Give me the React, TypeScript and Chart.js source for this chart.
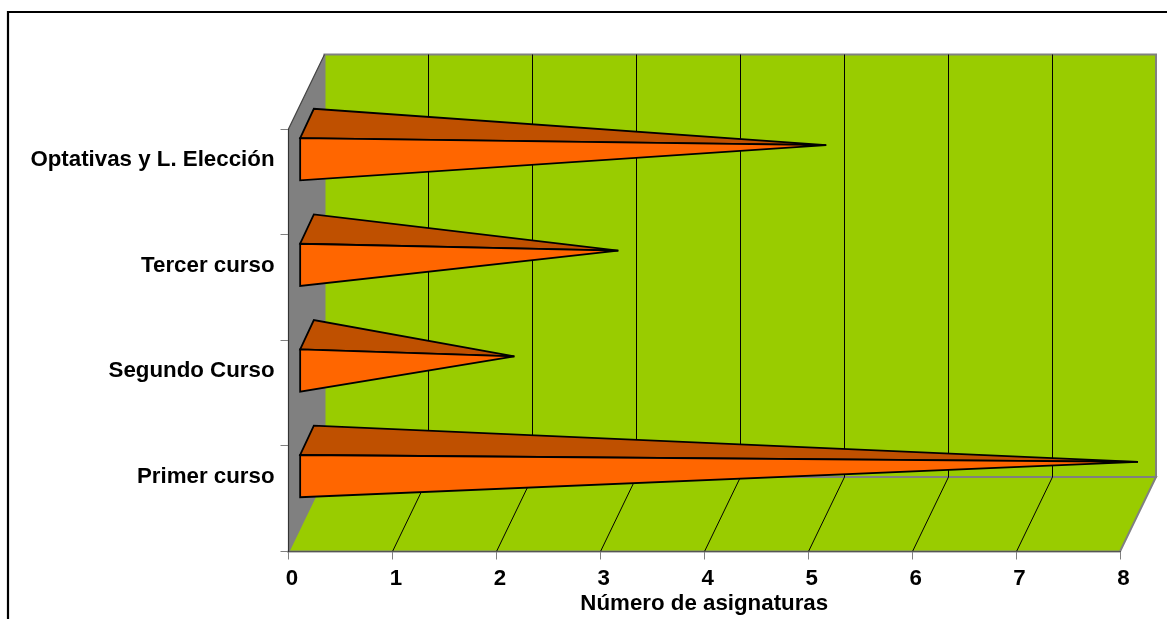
import React, { useEffect, useRef } from "react";
import { Chart, registerables } from "chart.js";

Chart.register(...registerables);

const categories = ["Optativas y L. Elección", "Tercer curso", "Segundo Curso", "Primer curso"];
const asignaturas = [5, 3, 2, 8];
const axisTitle = "Número de asignaturas";
const xMax = 8;

const DEPTH_X = 36;
const DEPTH_Y = -74.5;
const GREEN = "#99CC00";
const GREY = "#808080";
const FRONT = "#FF6600";
const TOP = "#BF5000";
const FONT = "'Liberation Sans', Arial, sans-serif";
const FONT_SIZE = 22.3;

const scene3d = {
  id: "scene3d",
  beforeDraw(chart: any) {
    const { ctx, chartArea: a, scales } = chart;
    const x = scales.x;
    ctx.save();
    // Outer frame (the reference crops it at right and bottom)
    ctx.strokeStyle = "#000";
    ctx.lineWidth = 2.2;
    ctx.beginPath();
    ctx.moveTo(8, 625);
    ctx.lineTo(8, 12);
    ctx.lineTo(1175, 12);
    ctx.stroke();

    const l = a.left, r = a.right, t = a.top, b = a.bottom;
    // Back wall
    ctx.beginPath();
    ctx.rect(l + DEPTH_X, t + DEPTH_Y, r - l, b - t);
    ctx.fillStyle = GREEN;
    ctx.fill();
    ctx.lineWidth = 2;
    ctx.strokeStyle = GREY;
    ctx.stroke();
    // Floor
    ctx.beginPath();
    ctx.moveTo(l, b);
    ctx.lineTo(r, b);
    ctx.lineTo(r + DEPTH_X, b + DEPTH_Y);
    ctx.lineTo(l + DEPTH_X, b + DEPTH_Y);
    ctx.closePath();
    ctx.fillStyle = GREEN;
    ctx.fill();
    ctx.stroke();
    // Side wall
    ctx.beginPath();
    ctx.moveTo(l, t);
    ctx.lineTo(l + DEPTH_X, t + DEPTH_Y);
    ctx.lineTo(l + DEPTH_X, b + DEPTH_Y);
    ctx.lineTo(l, b);
    ctx.closePath();
    ctx.fillStyle = GREY;
    ctx.fill();
    ctx.lineWidth = 1.2;
    ctx.strokeStyle = "#444";
    ctx.beginPath();
    ctx.moveTo(l, b);
    ctx.lineTo(l, t);
    ctx.lineTo(l + DEPTH_X, t + DEPTH_Y);
    ctx.stroke();
    // Grid lines on the wall and floor
    ctx.strokeStyle = "#000";
    ctx.lineWidth = 1;
    x.ticks.forEach((tick: any) => {
      if (tick.value <= 0 || tick.value >= xMax) return;
      const px = Math.round(x.getPixelForValue(tick.value)) + 0.5;
      ctx.beginPath();
      ctx.moveTo(px, b);
      ctx.lineTo(px + DEPTH_X, b + DEPTH_Y);
      ctx.lineTo(px + DEPTH_X, t + DEPTH_Y);
      ctx.stroke();
    });
    ctx.restore();
  },
  afterDatasetsDraw(chart: any) {
    const { ctx } = chart;
    const bars = chart.getDatasetMeta(0).data;
    ctx.save();
    ctx.lineWidth = 1.8;
    ctx.strokeStyle = "#000";
    ctx.lineJoin = "miter";
    bars.forEach((bar: any) => {
      const half = bar.height / 2;
      const cx = bar.base + DEPTH_X / 2;
      const cy = bar.y + DEPTH_Y / 2;
      const tipX = bar.x + DEPTH_X / 2;
      const tipY = cy + 0.5;
      const dx = DEPTH_X * 0.19;
      const dy = DEPTH_Y * 0.197;
      const fb = [cx - dx, cy - dy + half];
      const ft = [cx - dx, cy - dy - half];
      const bt = [cx + dx, cy + dy - half];
      // Upper face
      ctx.beginPath();
      ctx.moveTo(ft[0], ft[1]);
      ctx.lineTo(bt[0], bt[1]);
      ctx.lineTo(tipX, tipY);
      ctx.closePath();
      ctx.fillStyle = TOP;
      ctx.fill();
      ctx.stroke();
      // Front face
      ctx.beginPath();
      ctx.moveTo(fb[0], fb[1]);
      ctx.lineTo(ft[0], ft[1]);
      ctx.lineTo(tipX, tipY);
      ctx.closePath();
      ctx.fillStyle = FRONT;
      ctx.fill();
      ctx.stroke();
    });
    ctx.restore();
  },
};

export default function App() {
  const ref = useRef<HTMLCanvasElement>(null);
  useEffect(() => {
    const chart = new Chart(ref.current as HTMLCanvasElement, {
      type: "bar",
      data: {
        labels: categories,
        datasets: [
          {
            label: axisTitle,
            data: asignaturas,
            backgroundColor: "rgba(0,0,0,0)",
            borderWidth: 0,
            categoryPercentage: 1,
            barPercentage: 0.4,
          },
        ],
      },
      plugins: [scene3d],
      options: {
        indexAxis: "y",
        animation: false,
        responsive: false,
        layout: { padding: { top: 129, right: 47, left: 0, bottom: 0 } },
        plugins: { legend: { display: false }, tooltip: { enabled: false }, title: { display: false } },
        scales: {
          x: {
            type: "linear",
            min: 0,
            max: xMax,
            afterFit(s: any) { s.height = 67.5; },
            ticks: {
              stepSize: 1,
              maxRotation: 0,
              padding: 6,
              labelOffset: 3.5,
              color: "#000",
              font: { family: FONT, size: FONT_SIZE, weight: "bold" },
            },
            grid: { drawOnChartArea: false, drawTicks: true, tickLength: 8, color: GREY },
            border: { color: "#555" },
            title: {
              display: true,
              text: axisTitle,
              color: "#000",
              font: { family: FONT, size: FONT_SIZE, weight: "bold" },
              padding: { top: 0, bottom: 2 },
            },
          },
          y: {
            type: "category",
            offset: true,
            afterFit(s: any) { s.width = 288.5; },
            ticks: {
              padding: 6,
              labelOffset: -22,
              autoSkip: false,
              color: "#000",
              font: { family: FONT, size: FONT_SIZE, weight: "bold" },
            },
            grid: { offset: true, drawOnChartArea: false, tickLength: 8, color: GREY },
            border: { color: "#333" },
          },
        },
      },
    } as any);
    return () => chart.destroy();
  }, []);
  return (
    <canvas
      ref={ref}
      width={1167}
      height={619}
      style={{ position: "absolute", left: 0, top: 0, width: 1167, height: 619, display: "block" }}
    />
  );
}
